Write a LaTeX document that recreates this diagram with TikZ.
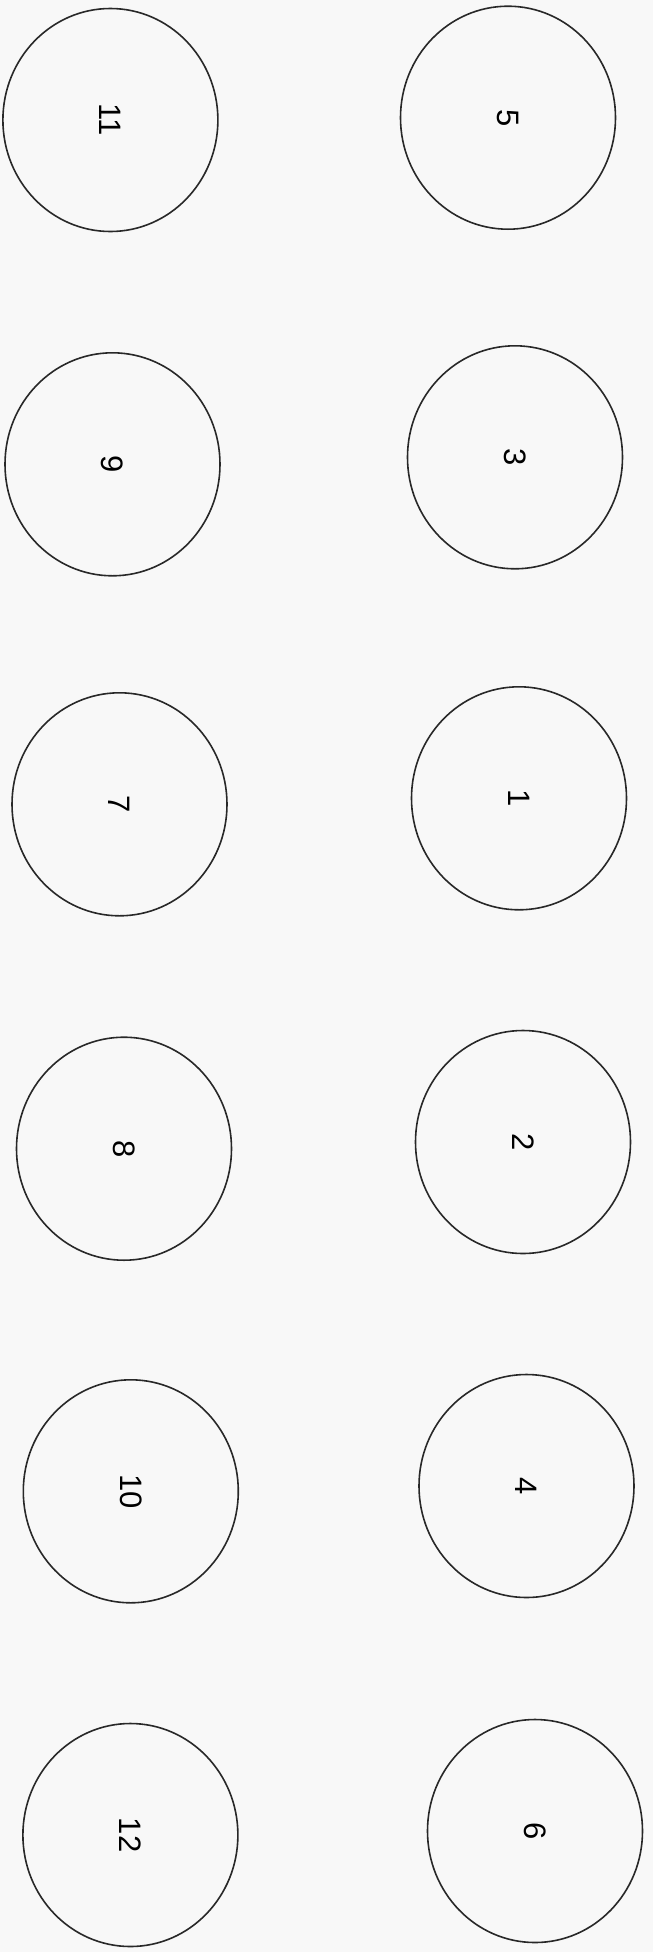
\documentclass[tikz,border=0pt]{standalone}
\usepackage{fontspec}
\setmainfont{Liberation Sans}
\usepackage{graphicx}
\usetikzlibrary{shapes.geometric}
\definecolor{bgcol}{RGB}{248,248,248}
\definecolor{linecol}{RGB}{40,40,40}
\tikzset{
  seat/.style={ellipse, draw=linecol, line width=1.6pt, fill=bgcol,
    minimum width=215pt, minimum height=223pt, inner sep=0pt,
    font=\fontsize{31}{37}\selectfont, text=black}
}
\newcommand{\rnum}[1]{\rotatebox{-90}{#1}}
\begin{document}
\begin{tikzpicture}[x=1pt,y=-1pt]
\fill[bgcol] (0,0) rectangle (653,1952);
\useasboundingbox (0,0) rectangle (653,1952);
\node[seat] (n11) at (110.4,120) {\rnum{11}};
\node[seat] (n5) at (508,117.7) {\rnum{5}};
\node[seat] (n9) at (112.5,464.3) {\rnum{9}};
\node[seat] (n3) at (515,457.3) {\rnum{3}};
\node[seat] (n7) at (119.5,804.3) {\rnum{7}};
\node[seat] (n1) at (519,798.3) {\rnum{1}};
\node[seat] (n8) at (124,1148.7) {\rnum{8}};
\node[seat] (n2) at (523,1142) {\rnum{2}};
\node[seat] (n10) at (130.8,1491.3) {\rnum{10}};
\node[seat] (n4) at (526.5,1486) {\rnum{4}};
\node[seat] (n12) at (130.4,1835) {\rnum{12}};
\node[seat] (n6) at (535,1831) {\rnum{6}};
\end{tikzpicture}
\end{document}
